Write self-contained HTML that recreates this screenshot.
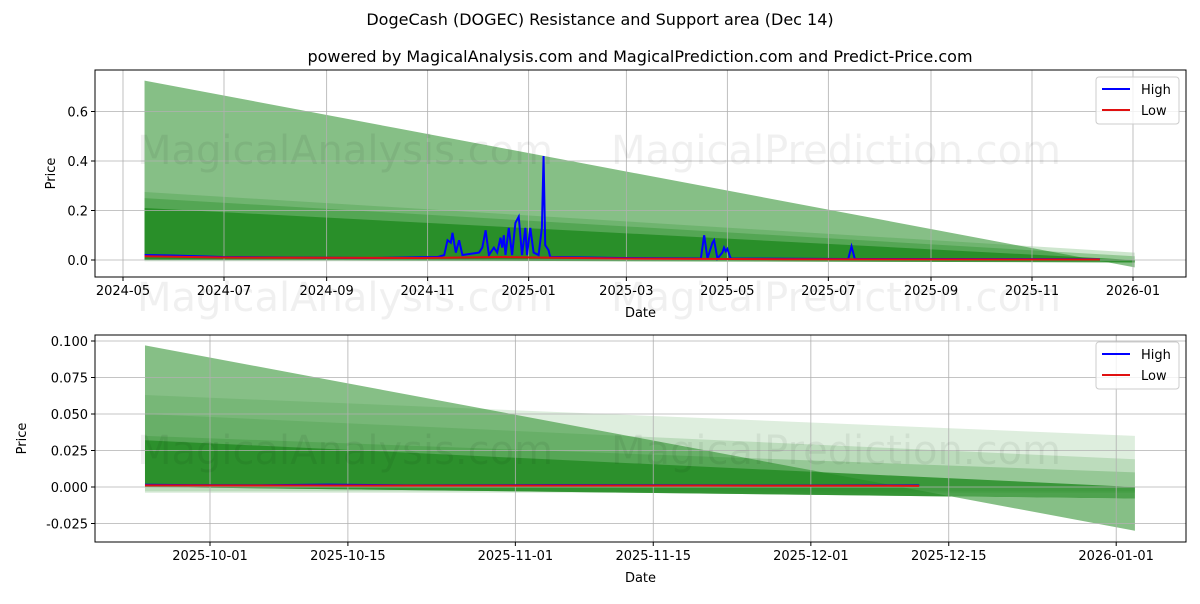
<!DOCTYPE html>
<html><head><meta charset="utf-8"><style>
body{margin:0;background:#fff;font-family:"DejaVu Sans","Liberation Sans",sans-serif}
svg text{font-family:"DejaVu Sans","Liberation Sans",sans-serif}
</style></head><body>
<svg id="c" width="1200" height="600" xmlns="http://www.w3.org/2000/svg">
<text x="600" y="25" text-anchor="middle" font-size="16">DogeCash (DOGEC) Resistance and Support area (Dec 14)</text>
<text x="640" y="62" text-anchor="middle" font-size="16">powered by MagicalAnalysis.com and MagicalPrediction.com and Predict-Price.com</text>
</svg>
<script>
// ---- top chart data (day offsets from 2024-05-01) ----
const topTickLabels=["2024-05","2024-07","2024-09","2024-11","2025-01","2025-03","2025-05","2025-07","2025-09","2025-11","2026-01"];
const topTickDays=[0,61,123,184,245,304,365,426,488,549,610];
const topYTicks=[0,0.2,0.4,0.6];
const topHighDays=[13,30,60,100,150,190,194,196,198,199,201,203,205,215,217,219,221,224,226,228,229,230,231,233,235,237,239,241,243,244,246,248,251,253,254,255,257,258,300,349,351,353,356,357,359,362,363,364,365,367,438,440,442,590];
const topHighVals=[.02,.018,.012,.01,.008,.012,.02,.08,.07,.11,.03,.08,.02,.03,.05,.12,.02,.05,.03,.09,.05,.1,.02,.13,.02,.15,.175,.02,.13,.02,.13,.03,.02,.13,.42,.06,.04,.012,.008,.006,.1,.006,.07,.08,.006,.03,.05,.035,.045,.006,.004,.055,.004,.003];
const topLowDays=[13,60,180,230,300,400,590];
const topLowVals=[.015,.01,.008,.012,.006,.003,.002];
const topBandStart=13, topBandEnd=611;
const topBandUpperStart=[0.725,0.275,0.25,0.21];
const topBandUpperEnd=[-0.03,0.03,0.015,0.0];
const topBandLowerStart=[0,-0.005,0,0];
const topBandLowerEnd=[0,-0.005,0,-0.01];
const topBandAlpha=[0.55,0.22,0.35,0.85];
// ---- bottom chart data (day offsets from 2025-10-01) ----
const botTickLabels=["2025-10-01","2025-10-15","2025-11-01","2025-11-15","2025-12-01","2025-12-15","2026-01-01"];
const botTickDays=[0,14,31,45,61,75,92];
const botYTicks=[-0.025,0,0.025,0.05,0.075,0.1];
const botHighDays=[-6.6,-2,5,12,20,35,45,60,72];
const botHighVals=[.0015,.0013,.0012,.0016,.0011,.0013,.0012,.001,.0011];
const botLowDays=[-6.6,10,30,50,72];
const botLowVals=[.0011,.001,.0009,.0009,.0008];
const botBandStart=-6.6, botBandEnd=93.9;
const botBandUpperStart=[0.063,0.05,0.035,0.032,0.097];
const botBandUpperEnd=[0.035,0.019,0.010,0.0,-0.030];
const botBandLowerStart=[-0.004,-0.003,0,0,0];
const botBandLowerEnd=[-0.004,-0.003,0,-0.008,-0.008];
const botBandAlpha=[0.15,0.18,0.25,0.8,0.55];

const NS="http://www.w3.org/2000/svg";
const svg=document.getElementById('c');
function mk(t,a,p){const e=document.createElementNS(NS,t);for(const k in a)e.setAttribute(k,a[k]);(p||svg).appendChild(e);return e;}

function panel(o){
 const {L,R,T,B,x0,xs,y0,ys}=o;
 const X=d=>x0+d*xs, Y=v=>y0-v*ys;
 const g=mk('g',{});
 
 
 o.us.forEach((u,i)=>{
  const p=`${X(o.bs)},${Y(u)} ${X(o.be)},${Y(o.ue[i])} ${X(o.be)},${Y(o.le[i])} ${X(o.bs)},${Y(o.ls[i])}`;
  const e=mk('polygon',{points:p,fill:'#228B22','fill-opacity':o.al[i]},g);
  
  
 });
 o.xt.forEach((d,i)=>{
  const l=mk('line',{x1:X(d),x2:X(d),y1:T,y2:B,stroke:'#b0b0b0','stroke-width':0.8},g);
  
  
  mk('line',{x1:X(d),x2:X(d),y1:B,y2:B+4,stroke:'#000'},g);
  const t=mk('text',{x:X(d),y:B+18,'text-anchor':'middle','font-size':13},g);
  t.textContent=o.xl[i];
  
  
 });
 o.yt.forEach(v=>{
  const l=mk('line',{x1:L,x2:R,y1:Y(v),y2:Y(v),stroke:'#b0b0b0','stroke-width':0.8},g);
  
  
  mk('line',{x1:L-4,x2:L,y1:Y(v),y2:Y(v),stroke:'#000'},g);
  const t=mk('text',{x:L-7,y:Y(v)+5,'text-anchor':'end','font-size':13},g);
  t.textContent=o.yfmt(v);
  
  
 });
 const hp=mk('polyline',{points:o.hd.map((d,i)=>X(d)+','+Y(o.hv[i])).join(' '),fill:'none',stroke:'#0000ff','stroke-width':2},g);
 
 
 const lp=mk('polyline',{points:o.ld.map((d,i)=>X(d)+','+Y(o.lv[i])).join(' '),fill:'none',stroke:'#e01010','stroke-width':2},g);
 
 
 const f=mk('rect',{x:L,y:T,width:R-L,height:B-T,fill:'none',stroke:'#000','stroke-width':1},g);
 
 
 const lg=mk('g',{},g);
 
 
 mk('rect',{x:R-90,y:T+7,width:83,height:47,rx:3,fill:'#fff','fill-opacity':0.8,stroke:'#ccc'},lg);
 mk('line',{x1:R-84,x2:R-56,y1:T+19,y2:T+19,stroke:'#0000ff','stroke-width':2},lg);
 mk('line',{x1:R-84,x2:R-56,y1:T+40,y2:T+40,stroke:'#e01010','stroke-width':2},lg);
 const a=mk('text',{x:R-45,y:T+24,'font-size':13},lg);a.textContent='High';
 
 
 const b=mk('text',{x:R-45,y:T+45,'font-size':13},lg);b.textContent='Low';
 
 
 const xl=mk('text',{x:(L+R)/2,y:B+40,'text-anchor':'middle','font-size':13},g);xl.textContent='Date';
 
 
 const yl=mk('text',{x:0,y:0,'text-anchor':'middle','font-size':13,transform:`translate(${o.ylx},${(T+B)/2}) rotate(-90)`},g);yl.textContent='Price';
 
 
}
panel({name:'top-panel',L:95,R:1186,T:70,B:277,x0:123,xs:1010/610,y0:260,ys:247.5,
 xt:topTickDays,xl:topTickLabels,yt:topYTicks,yfmt:v=>v.toFixed(1),
 bs:topBandStart,be:topBandEnd,us:topBandUpperStart,ue:topBandUpperEnd,ls:topBandLowerStart,le:topBandLowerEnd,al:topBandAlpha,
 hd:topHighDays,hv:topHighVals,ld:topLowDays,lv:topLowVals,ylx:55});
panel({name:'bottom-panel',L:95,R:1186,T:335,B:542,x0:210,xs:9.85,y0:487,ys:1460,
 xt:botTickDays,xl:botTickLabels,yt:botYTicks,yfmt:v=>v.toFixed(3),
 bs:botBandStart,be:botBandEnd,us:botBandUpperStart,ue:botBandUpperEnd,ls:botBandLowerStart,le:botBandLowerEnd,al:botBandAlpha,
 hd:botHighDays,hv:botHighVals,ld:botLowDays,lv:botLowVals,ylx:26});
// watermarks (figure level)
[[164],[311],[464]].forEach(r=>{
 [["MagicalAnalysis.com",345],["MagicalPrediction.com",836]].forEach(w=>{
  const t=mk('text',{x:w[1],y:r[0],'text-anchor':'middle','font-size':40,fill:'#000','fill-opacity':0.06});
  t.textContent=w[0];
  
  
 });
});
</script>
</body></html>
